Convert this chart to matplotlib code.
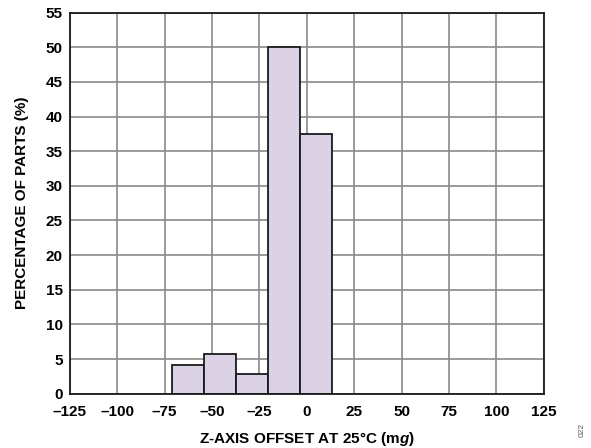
import matplotlib
matplotlib.use("Agg")
import matplotlib.pyplot as plt

# histogram bins (mg) and percentage of parts
bin_edges = [-71.0, -54.2, -37.4, -20.6, -3.8, 13.2]
percent = [4.2, 5.8, 2.8, 50.0, 37.5]

x_ticks = [-125, -100, -75, -50, -25, 0, 25, 50, 75, 100, 125]
y_ticks = [0, 5, 10, 15, 20, 25, 30, 35, 40, 45, 50, 55]

plt.rcParams['font.family'] = ['Liberation Sans', 'DejaVu Sans']
plt.rcParams['font.weight'] = 'bold'
plt.rcParams['mathtext.fontset'] = 'custom'
plt.rcParams['mathtext.rm'] = 'Liberation Sans:bold'
plt.rcParams['mathtext.it'] = 'Liberation Sans:italic:bold'

fig = plt.figure(figsize=(5.91, 4.48), dpi=100)
ax = fig.add_axes([0.118, 0.121, 0.802, 0.851])

lefts = bin_edges[:-1]
widths = [b - a for a, b in zip(bin_edges[:-1], bin_edges[1:])]
ax.bar(lefts, percent, width=widths, align='edge', color='#dcd2e6',
       edgecolor='#1a1a1a', linewidth=1.3, zorder=3)

ax.set_xlim(-125, 125)
ax.set_ylim(0, 55)
ax.set_xticks(x_ticks)
ax.set_xticklabels([str(t).replace('-', '\u2013') for t in x_ticks])
ax.set_yticks(y_ticks)
ax.tick_params(length=0, labelsize=11)
ax.tick_params(axis='x', pad=8)
ax.tick_params(axis='y', pad=5)
ax.grid(True, color='#8a8a8a', linewidth=1.2, zorder=0)
ax.set_axisbelow(True)
for s in ax.spines.values():
    s.set_linewidth(1.3)
    s.set_color('#1a1a1a')
    s.set_zorder(4)

ax.set_xlabel('Z-AXIS OFFSET AT 25°C (m$\\mathit{g}$)', fontsize=11,
              fontweight='bold', labelpad=8)
ax.set_ylabel('PERCENTAGE OF PARTS (%)', fontsize=11, fontweight='bold',
              labelpad=12)

fig.text(0.985, 0.04, '022', rotation=90, fontsize=6, color='#555555',
         fontweight='normal', ha='center', va='center')

fig.savefig('out.png', dpi=100)
